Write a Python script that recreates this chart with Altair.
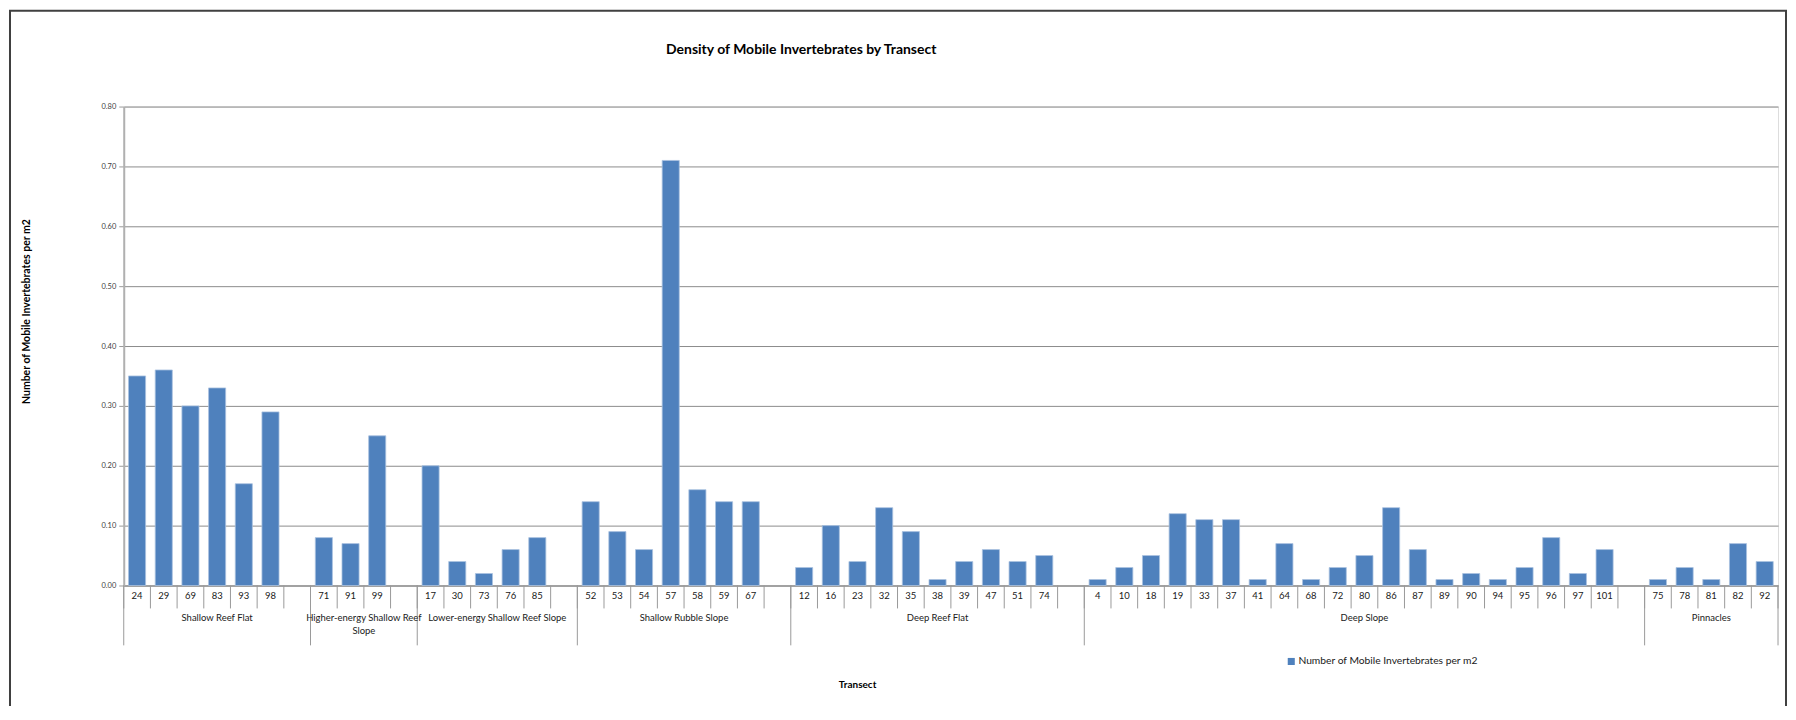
import altair as alt
import pandas as pd

# ---------------- data ----------------
groups = [
    "Shallow Reef Flat",
    "Higher-energy Shallow Reef Slope",
    "Lower-energy Shallow Reef Slope",
    "Shallow Rubble Slope",
    "Deep Reef Flat",
    "Deep Slope",
    "Pinnacles",
]
group_display = [
    "Shallow Reef Flat",
    "Higher-energy Shallow Reef\nSlope",
    "Lower-energy Shallow Reef Slope",
    "Shallow Rubble Slope",
    "Deep Reef Flat",
    "Deep Slope",
    "Pinnacles",
]
transects = [
    ["24", "29", "69", "83", "93", "98"],
    ["71", "91", "99"],
    ["17", "30", "73", "76", "85"],
    ["52", "53", "54", "57", "58", "59", "67"],
    ["12", "16", "23", "32", "35", "38", "39", "47", "51", "74"],
    ["4", "10", "18", "19", "33", "37", "41", "64", "68", "72",
     "80", "86", "87", "89", "90", "94", "95", "96", "97", "101"],
    ["75", "78", "81", "82", "92"],
]
values = [
    [0.35, 0.36, 0.30, 0.33, 0.17, 0.29],
    [0.08, 0.07, 0.25],
    [0.20, 0.04, 0.02, 0.06, 0.08],
    [0.14, 0.09, 0.06, 0.71, 0.16, 0.14, 0.14],
    [0.03, 0.10, 0.04, 0.13, 0.09, 0.01, 0.04, 0.06, 0.04, 0.05],
    [0.01, 0.03, 0.05, 0.12, 0.11, 0.11, 0.01, 0.07, 0.01, 0.03,
     0.05, 0.13, 0.06, 0.01, 0.02, 0.01, 0.03, 0.08, 0.02, 0.06],
    [0.01, 0.03, 0.01, 0.07, 0.04],
]
y_ticks = [0.0, 0.1, 0.2, 0.3, 0.4, 0.5, 0.6, 0.7, 0.8]
series_name = "Number of Mobile Invertebrates per m2"
chart_title = "Density of Mobile Invertebrates by Transect"

# ---------------- tables built from the arrays ----------------
rows, grp_rows = [], []
slot = 0
for gi, g in enumerate(groups):
    start = slot
    for t, v in zip(transects[gi], values[gi]):
        rows.append({"slot": slot, "transect": t, "value": v, "group": g,
                     "series": series_name})
        slot += 1
    if gi < len(groups) - 1:
        slot += 1  # empty category between groups (as in the sheet)
    grp_rows.append({"start": start, "end": slot, "label": group_display[gi]})
n_slots = slot

bars_df = pd.DataFrame(rows)
grp_df = pd.DataFrame(grp_rows)
bnd_df = pd.DataFrame({"pos": list(range(n_slots + 1))})
long_df = pd.DataFrame({"pos": [0] + [r["end"] for r in grp_rows]})

FONT = "Lato"
W, H = 1658, 480

xscale = alt.Scale(domain=[0, n_slots], nice=False, zero=False)
yscale = alt.Scale(domain=[0, 0.8], nice=False)

bars = (
    alt.Chart(bars_df)
    .transform_calculate(x0="datum.slot + 0.18", x1="datum.slot + 0.82")
    .mark_bar(stroke="#A9C1E0", strokeWidth=0.8)
    .encode(
        x=alt.X("x0:Q", scale=xscale,
                axis=alt.Axis(labels=False, ticks=False, grid=False, domain=True,
                              domainColor="#9A9A9A", domainWidth=1.5,
                              title="Transect", titleFont=FONT, titleFontSize=10,
                              titleFontWeight="bold", titleColor="#000000",
                              titleX=735, titleY=99, titleBaseline="middle",
                              titleAlign="center")),
        x2="x1:Q",
        y=alt.Y("value:Q", scale=yscale,
                axis=alt.Axis(values=y_ticks, format=".2f", labelFontSize=7.5,
                              labelFont=FONT, labelColor="#404040",
                              tickSize=5, tickColor="#9A9A9A", labelPadding=3,
                              domainColor="#B0B0B0", domainWidth=2,
                              grid=True, gridColor="#8C8C8C", gridWidth=1,
                              title="Number of Mobile Invertebrates per m2",
                              titleFont=FONT, titleFontSize=10.5,
                              titleFontWeight="bold", titleColor="#000000",
                              titleX=-97, titleY=205, titleAngle=270,
                              titleAlign="center", titleBaseline="middle")),
        y2=alt.datum(0),
        color=alt.Color("series:N",
                        scale=alt.Scale(range=["#4F81BD"]),
                        legend=alt.Legend(orient="none", legendX=1165, legendY=551,
                                          title=None, symbolType="square",
                                          symbolSize=50, symbolStrokeWidth=0,
                                          labelFont=FONT, labelFontSize=10.3,
                                          labelColor="#202020", labelOffset=2,
                                          labelLimit=400, padding=0)),
    )
)

short_ticks = (
    alt.Chart(bnd_df)
    .mark_rule(color="#9A9A9A", strokeWidth=1)
    .encode(x=alt.X("pos:Q", scale=xscale), y=alt.value(H), y2=alt.value(H + 23))
)

long_ticks = (
    alt.Chart(long_df)
    .mark_rule(color="#9A9A9A", strokeWidth=1)
    .encode(x=alt.X("pos:Q", scale=xscale), y=alt.value(H), y2=alt.value(H + 60))
)

cat_labels = (
    alt.Chart(bars_df)
    .transform_calculate(xc="datum.slot + 0.5")
    .mark_text(font=FONT, fontSize=9.5, color="#202020", baseline="middle")
    .encode(x=alt.X("xc:Q", scale=xscale), y=alt.value(H + 11), text="transect:N")
)

grp_labels = (
    alt.Chart(grp_df)
    .transform_calculate(xc="(datum.start + datum.end) / 2")
    .mark_text(font=FONT, fontSize=9.5, color="#202020", baseline="top",
               lineBreak="\n", lineHeight=13)
    .encode(x=alt.X("xc:Q", scale=xscale), y=alt.value(H + 28), text="label:N")
)

title_text = (
    alt.Chart(pd.DataFrame({"t": [chart_title]}))
    .mark_text(font=FONT, fontSize=14, fontWeight="bold", color="#000000",
               baseline="middle", align="center")
    .encode(x=alt.value(679), y=alt.value(-57), text="t:N")
)

frame = (
    alt.Chart(pd.DataFrame({"k": [0]}))
    .mark_rect(filled=False, stroke="#404040", strokeWidth=2)
    .encode(x=alt.value(-114), x2=alt.value(1666), y=alt.value(-96), y2=alt.value(700))
)

chart = (
    alt.layer(frame, bars, short_ticks, long_ticks, cat_labels, grp_labels, title_text)
    .properties(
        width=W, height=H,
        padding={"left": 116, "top": 98, "right": 10, "bottom": 120},
        autosize=alt.AutoSizeParams(type="none"),
    )
    .configure_view(stroke=None)
    .configure(font=FONT)
)

chart.save("out.html", embed_options={"renderer": "svg", "actions": False})
